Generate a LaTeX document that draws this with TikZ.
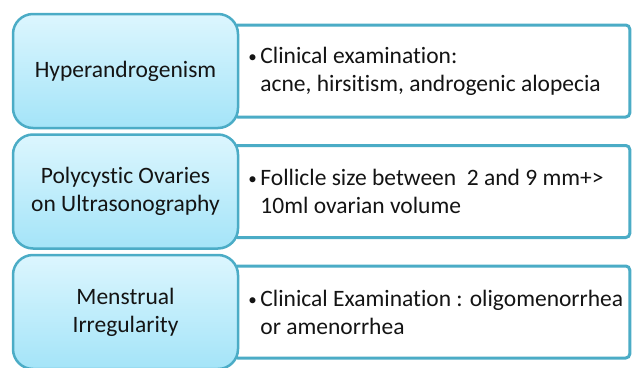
\documentclass[tikz,border=0pt]{standalone}
\usepackage{fontspec}
\setmainfont{Carlito}[Ligatures=NoCommon]
\usetikzlibrary{positioning, backgrounds}

\definecolor{frameblue}{RGB}{75,172,198}
\definecolor{lighttop}{RGB}{220,246,254}
\definecolor{lightbot}{RGB}{164,228,248}
\definecolor{textgray}{RGB}{20,20,20}

\newcommand{\bul}{\makebox[12pt][l]{\raisebox{1pt}{\fontsize{17}{17}\selectfont\textbullet}}}

\begin{document}
\begin{tikzpicture}[
    x=1pt, y=-1pt,
    crit/.style ={draw=frameblue, line width=2.5pt, rounded corners=20pt,
                  top color=lighttop, bottom color=lightbot, align=center,
                  minimum width=225pt, minimum height=114pt, inner sep=0pt,
                  text=textgray, font=\fontsize{23.5}{28}\selectfont},
    detail/.style={draw=frameblue, line width=3pt, rounded corners=4pt,
                  fill=white, minimum width=396pt, minimum height=92pt,
                  inner sep=0pt},
    txt/.style   ={anchor=west, align=left, inner sep=0pt, text=textgray,
                  font=\fontsize{23.5}{28}\selectfont},
]
\useasboundingbox (0,0) rectangle (632,367);
\clip (0,0) rectangle (632,367);

% criteria on the left
\node[crit] (hyper) at (125.5,71)  {Hyperandrogenism};
\node[crit] (pco)   at (125.5,191.5) {Polycystic Ovaries\\on Ultrasonography};
\node[crit] (mens)  at (125.5,312) {Menstrual\\Irregularity};

% details sit behind the criteria boxes
\begin{scope}[on background layer]
\node[detail, right=-7pt of hyper] (hyperd) {};
\node[detail, right=-7pt of pco]   (pcod)   {};
\node[detail, right=-7pt of mens]  (mensd)  {};
\end{scope}

\node[txt] (hypert) at ([xshift=16pt]hyperd.west)
  {\bul Clinical examination:\\\hspace*{12pt}acne, hirsitism, androgenic alopecia};
\node[txt] (pcot) at ([xshift=16pt]pcod.west)
  {\bul Follicle size between\ \ 2 and 9 mm+>\\\hspace*{12pt}10ml ovarian volume};
\node[txt] (menst) at ([xshift=16pt]mensd.west)
  {\bul Clinical Examination : oligomenorrhea\\\hspace*{12pt}or amenorrhea};
\end{tikzpicture}
\end{document}
